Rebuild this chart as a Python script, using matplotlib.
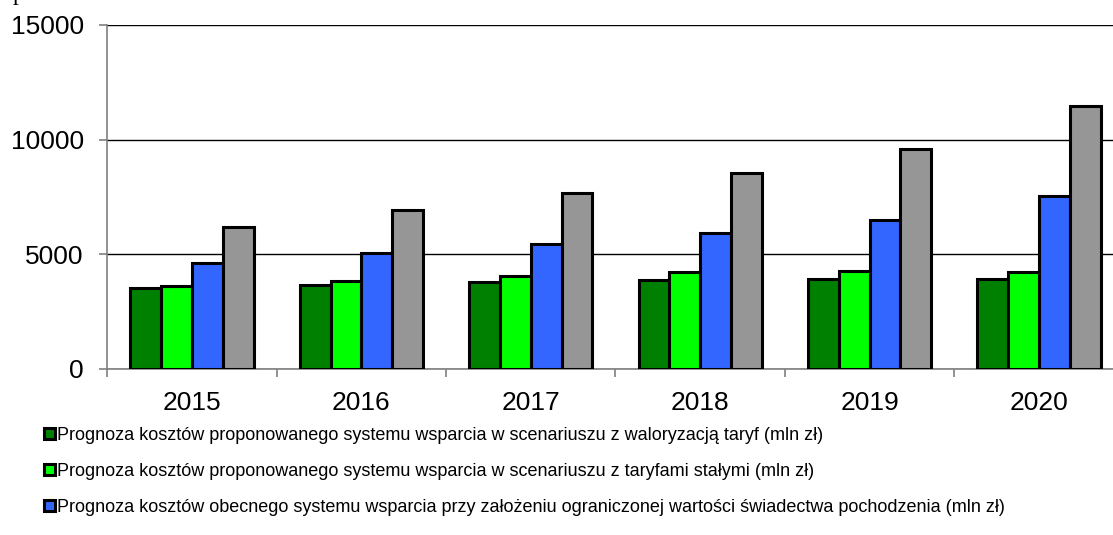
import numpy as np
import matplotlib
matplotlib.use('Agg')
import matplotlib.pyplot as plt

plt.rcParams['font.family'] = ['Liberation Sans', 'DejaVu Sans']

years = ['2015', '2016', '2017', '2018', '2019', '2020']
waloryzacja = [3520, 3660, 3810, 3880, 3920, 3920]
stale = [3620, 3850, 4050, 4215, 4270, 4240]
obecny_ogr = [4630, 5045, 5440, 5915, 6495, 7555]
obecny = [6200, 6930, 7690, 8560, 9590, 11450]

labels = [
    'Prognoza kosztów proponowanego systemu wsparcia w scenariuszu z waloryzacją taryf (mln zł)',
    'Prognoza kosztów proponowanego systemu wsparcia w scenariuszu z taryfami stałymi (mln zł)',
    'Prognoza kosztów obecnego systemu wsparcia przy założeniu ograniczonej wartości świadectwa pochodzenia (mln zł)',
]
colors = ['#008000', '#00FF00', '#3366FF', '#969696']

fig = plt.figure(figsize=(11.13, 5.35), dpi=100)
# axes extend past the right edge, the source picture is cropped there
ax = fig.add_axes([0.0964, 0.3103, 0.9132, 0.643])

x = np.arange(len(years))
w = 0.182
series = [waloryzacja, stale, obecny_ogr, obecny]
bars = []
for i, (vals, c) in enumerate(zip(series, colors)):
    b = ax.bar(x + (i - 1.5) * w, vals, w, color=c, edgecolor='black',
               linewidth=2.2, zorder=3)
    bars.append(b)

ax.set_xlim(-0.5, len(years) - 0.5)
ax.set_ylim(0, 15000)
ax.set_yticks([0, 5000, 10000, 15000])
ax.set_yticklabels(['0', '5000', '10000', '15000'])
ax.yaxis.grid(True, color='black', linewidth=1.0, zorder=0)

ax.set_xticks(x)
ax.set_xticklabels(years)
ax.set_xticks(np.arange(-0.5, len(years)), minor=True)
ax.tick_params(axis='x', which='major', length=0, pad=15.5, labelsize=19)
ax.tick_params(axis='x', which='minor', length=6, width=1.2, color='#808080', direction='out')
ax.tick_params(axis='y', length=6, width=1.2, color='#808080', pad=11, labelsize=19)

for s in ['top', 'right']:
    ax.spines[s].set_visible(False)
for s in ['left', 'bottom']:
    ax.spines[s].set_color('#808080')
    ax.spines[s].set_linewidth(1.2)

leg = fig.legend(handles=[b[0] for b in bars[:3]], labels=labels,
                 loc='upper left', bbox_to_anchor=(0.0395, 0.202),
                 frameon=False, fontsize=13, handlelength=0.62, handleheight=0.62,
                 handletextpad=0.1, labelspacing=1.05, borderaxespad=0, borderpad=0)
for h in leg.legend_handles:
    h.set_linewidth(2.2)

# descender of text cut off at the top of the source picture
fig.text(0.011, 1.0, 'p', family='Liberation Serif', fontsize=17, va='baseline')

fig.savefig('out.png', dpi=100)
